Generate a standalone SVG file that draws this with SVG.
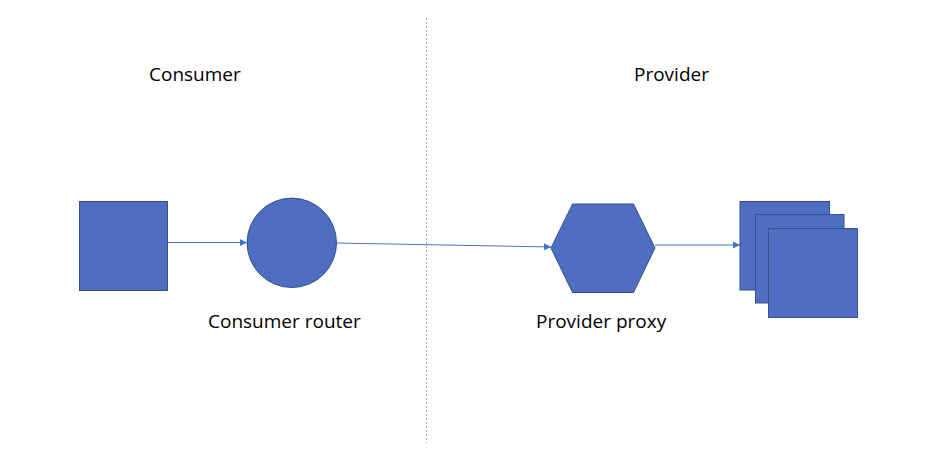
<svg xmlns="http://www.w3.org/2000/svg" width="947" height="450" viewBox="0 0 947 450">
<style>
.shape{fill:#4F6EC2;stroke:#2F528F;stroke-width:1}
.conn{fill:none;stroke:#4472C4;stroke-width:1}
.lbl{font-family:"Open Sans","Noto Sans","Liberation Sans",sans-serif;font-size:19px;fill:#000}
</style>
<defs>
<marker id="arr" viewBox="0 0 10 10" refX="10" refY="5" markerWidth="7" markerHeight="7" markerUnits="userSpaceOnUse" orient="auto">
<path d="M0,0 L10,5 L0,10 z" fill="#4472C4"/>
</marker>
</defs>
<rect width="947" height="450" fill="#fff"/>
<line x1="426.5" y1="18" x2="426.5" y2="443" stroke="#8FAADC" stroke-width="1" stroke-dasharray="2,2"/>
<g id="connectors">
<line class="conn" x1="168" y1="242.5" x2="247" y2="242.5" marker-end="url(#arr)"/>
<line class="conn" x1="337" y1="243" x2="551" y2="247" marker-end="url(#arr)"/>
<line class="conn" x1="655" y1="245" x2="740" y2="245" marker-end="url(#arr)"/>
</g>
<g id="source"><rect class="shape" x="79.5" y="201.5" width="88" height="89"/></g>
<g id="consumer-router"><circle class="shape" cx="291.8" cy="242.8" r="44.7"/></g>
<g id="provider-proxy"><polygon class="shape" points="551,248 572.5,204 633.5,204 655,248 633.5,292.5 572.5,292.5"/></g>
<g id="services">
<rect class="shape" x="740" y="201.5" width="89.5" height="88.5"/>
<rect class="shape" x="755.5" y="214.5" width="88.5" height="88.5"/>
<rect class="shape" x="768.5" y="228.5" width="89" height="89"/>
</g>
<g id="labels">
<text class="lbl" x="149" y="81">Consumer</text>
<text class="lbl" x="634" y="81">Provider</text>
<text class="lbl" x="208" y="328">Consumer router</text>
<text class="lbl" x="536" y="328">Provider proxy</text>
</g>
</svg>
